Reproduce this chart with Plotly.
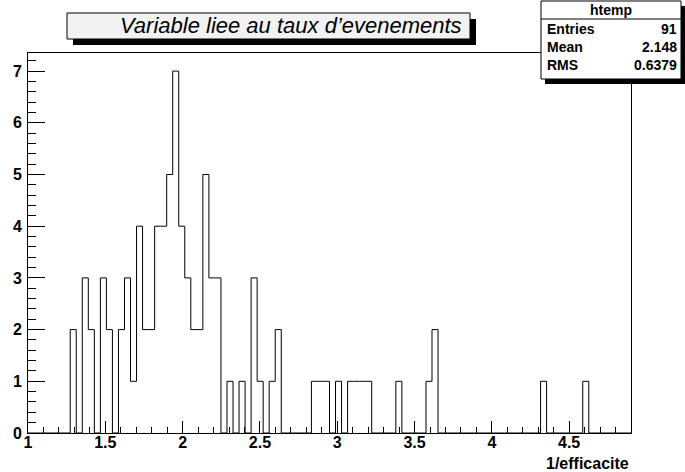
import plotly.graph_objects as go

# Histogram definition (100 bins from 1.0 to 4.9)
x_min = 1.0
x_max = 4.9
n_bins = 100
counts = [0, 0, 0, 0, 0, 0, 0, 2, 0, 3,
          2, 0, 3, 2, 0, 2, 3, 1, 4, 2,
          2, 4, 4, 5, 7, 4, 3, 2, 2, 5,
          3, 3, 0, 1, 0, 1, 0, 3, 1, 0,
          1, 2, 0, 0, 0, 0, 0, 1, 1, 1,
          0, 1, 0, 1, 1, 1, 1, 0, 0, 0,
          0, 1, 0, 0, 0, 0, 1, 2, 0, 0,
          0, 0, 0, 0, 0, 0, 0, 0, 0, 0,
          0, 0, 0, 0, 0, 1, 0, 0, 0, 0,
          0, 0, 1, 0, 0, 0, 0, 0, 0, 0]

title_text = "Variable liee au taux d\u2019evenements"
x_label = "1/efficacite"
stats_name = "htemp"
stats_rows = [("Entries", "91"), ("Mean", "2.148"), ("RMS", "0.6379")]

W, H = 685, 472
ML, MR, MT, MB = 28, 54, 53, 39
PW, PH = W - ML - MR, H - MT - MB

def px(x):
    return (x - ML) / PW

def py(y):
    return (H - MB - y) / PH

bw = (x_max - x_min) / n_bins
edges = [x_min + i * bw for i in range(n_bins + 1)]
yvals = counts + [counts[-1]]

FAM = "Liberation Sans, Arial, Helvetica, sans-serif"

fig = go.Figure()
fig.add_trace(go.Scatter(x=edges, y=yvals, mode="lines", line_shape="hv",
                         line=dict(color="black", width=1), hoverinfo="skip",
                         showlegend=False))

fig.update_xaxes(range=[x_min, x_max], dtick=0.5, tick0=1, ticks="inside", ticklen=12,
                 tickcolor="black", showline=True, linecolor="black", linewidth=1,
                 mirror=True, showgrid=False, zeroline=False, ticklabelstandoff=-5,
                 tickfont=dict(family=FAM, size=16, color="black", weight="bold"),
                 minor=dict(dtick=0.1, tick0=1, ticks="inside", ticklen=6, tickcolor="black",
                            showgrid=False))
fig.update_yaxes(range=[0, 7.35], dtick=1, ticks="inside", ticklen=17,
                 tickcolor="black", showline=True, linecolor="black", linewidth=1,
                 mirror=True, showgrid=False, zeroline=False, ticklabelstandoff=2,
                 tickfont=dict(family=FAM, size=16, color="black", weight="bold"),
                 minor=dict(dtick=0.2, ticks="inside", ticklen=8, tickcolor="black",
                            showgrid=False))

shapes = []
annotations = []

# Title box with shadow
tb = (67, 13, 470, 39)
shapes.append(dict(type="rect", xref="paper", yref="paper",
                   x0=px(tb[0] + 6), x1=px(tb[2] + 6), y0=py(tb[3] + 6), y1=py(tb[1] + 6),
                   fillcolor="black", line=dict(width=0), layer="above"))
shapes.append(dict(type="rect", xref="paper", yref="paper",
                   x0=px(tb[0]), x1=px(tb[2]), y0=py(tb[3]), y1=py(tb[1]),
                   fillcolor="#f2f2f2", line=dict(color="black", width=1), layer="above"))
annotations.append(dict(xref="paper", yref="paper", x=px(464), y=py(26),
                        xanchor="right", yanchor="middle", showarrow=False,
                        text="<i>" + title_text + "</i>",
                        font=dict(family=FAM, size=22, color="black")))

# Stats box with shadow
sb = (541, 1, 681, 79)
shapes.append(dict(type="rect", xref="paper", yref="paper",
                   x0=px(sb[0] + 4), x1=px(sb[2] + 4), y0=py(sb[3] + 5), y1=py(sb[1] + 5),
                   fillcolor="black", line=dict(width=0), layer="above"))
shapes.append(dict(type="rect", xref="paper", yref="paper",
                   x0=px(sb[0]), x1=px(sb[2]), y0=py(sb[3]), y1=py(sb[1]),
                   fillcolor="white", line=dict(color="black", width=1), layer="above"))
shapes.append(dict(type="line", xref="paper", yref="paper",
                   x0=px(sb[0]), x1=px(sb[2]), y0=py(19), y1=py(19),
                   line=dict(color="black", width=1), layer="above"))
font_stats = dict(family=FAM, size=14, color="black", weight="bold")
annotations.append(dict(xref="paper", yref="paper", x=px((sb[0] + sb[2]) / 2), y=py(10),
                        xanchor="center", yanchor="middle", showarrow=False,
                        text=stats_name, font=font_stats))
for i, (k, v) in enumerate(stats_rows):
    yy = 29 + i * 18
    annotations.append(dict(xref="paper", yref="paper", x=px(sb[0] + 4), y=py(yy),
                            xanchor="left", yanchor="middle", showarrow=False,
                            text=k, font=font_stats))
    annotations.append(dict(xref="paper", yref="paper", x=px(sb[2] - 2), y=py(yy),
                            xanchor="right", yanchor="middle", showarrow=False,
                            text=v, font=font_stats))

# X-axis title
annotations.append(dict(xref="paper", yref="paper", x=1.0, y=py(463),
                        xanchor="right", yanchor="middle", showarrow=False,
                        text=x_label, font=dict(family=FAM, size=16, color="black", weight="bold")))

fig.update_layout(width=W, height=H, margin=dict(l=ML, r=MR, t=MT, b=MB),
                  paper_bgcolor="white", plot_bgcolor="white",
                  shapes=shapes, annotations=annotations, showlegend=False)

fig.write_html("out.html", config={"displayModeBar": False},
               post_script="document.body.style.margin='0';document.body.style.overflow='hidden';")
